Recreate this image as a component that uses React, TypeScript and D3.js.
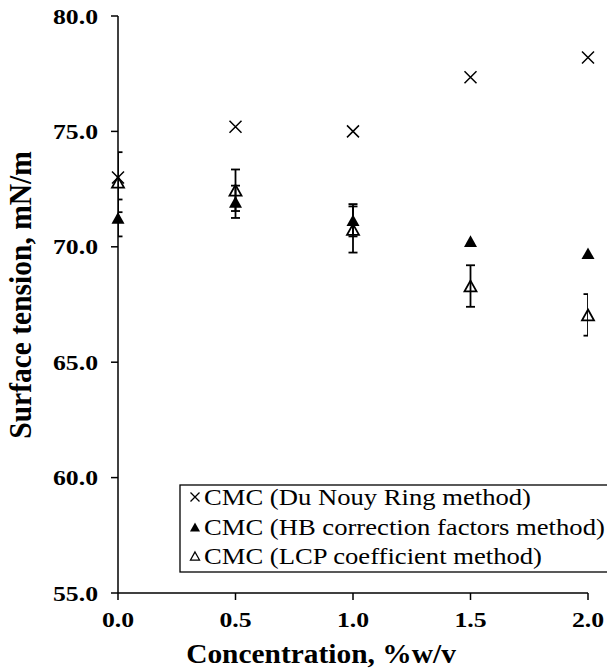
import React from "react";
import * as d3 from "d3";

const concentrations = [0, 0.5, 1.0, 1.5, 2.0];
const duNouy = [73.0, 75.2, 75.0, 77.35, 78.2];
const hb = [71.25, 71.95, 71.15, 70.25, 69.72];
const hbErr = [0.8, 0.7, 0.7, 0, 0];
const lcp = [72.8, 72.45, 70.75, 68.3, 67.05];
const lcpErr = [1.3, 0.9, 1.0, 0.9, 0.9];
const yTicks = [55, 60, 65, 70, 75, 80];
const xTicks = [0, 0.5, 1.0, 1.5, 2.0];
const legendLabels = [
  "CMC (Du Nouy Ring method)",
  "CMC (HB correction factors method)",
  "CMC (LCP coefficient method)",
];

const W = 607;
const H = 669;
const L = 118, R = 588, T = 16, B = 593;
const SERIF = "Liberation Serif";

export default function App() {
  const x = d3.scaleLinear().domain([0, 2]).range([L, R]);
  const y = d3.scaleLinear().domain([55, 80]).range([B, T]);

  const tri = (cx: number, cy: number, s: number) => {
    const h = s * 0.9;
    return `M${cx},${cy - h / 2}L${cx + s / 2},${cy + h / 2}L${cx - s / 2},${cy + h / 2}Z`;
  };
  const cross = (cx: number, cy: number, s: number) => {
    const r = s / 2;
    return `M${cx - r},${cy - r}L${cx + r},${cy + r}M${cx - r},${cy + r}L${cx + r},${cy - r}`;
  };

  const errBar = (v: number, e: number, i: number, key: string) => {
    if (!e) return null;
    const cx = x(concentrations[i]);
    const y1 = y(v + e), y2 = y(v - e);
    const cw = 4.5;
    return (
      <g key={key} stroke="#000" strokeWidth={1.8} clipPath="url(#plotClip)">
        <line x1={cx} x2={cx} y1={y1} y2={y2} />
        <line x1={cx - cw} x2={cx + cw} y1={y1} y2={y1} />
        <line x1={cx - cw} x2={cx + cw} y1={y2} y2={y2} />
      </g>
    );
  };

  const legendY = [497, 527, 556];

  return (
    <svg width={W} height={H} style={{ position: "absolute", left: 0, top: 0, background: "#fff" }} fontFamily={SERIF}>
      <defs>
        <clipPath id="plotClip">
          <rect x={L} y={T - 5} width={R - L} height={B - T + 10} />
        </clipPath>
      </defs>
      <rect x={0} y={0} width={W} height={H} fill="#fff" />

      {/* legend box */}
      <rect x={180} y={485} width={440} height={87} fill="#fff" stroke="#000" strokeWidth={1.3} />
      {legendLabels.map((lab, i) => (
        <g key={lab}>
          {i === 0 && <path d={cross(195, legendY[i], 9)} stroke="#000" strokeWidth={1.3} fill="none" />}
          {i === 1 && <path d={tri(195, legendY[i], 10)} fill="#000" />}
          {i === 2 && <path d={tri(195, legendY[i], 9)} fill="none" stroke="#000" strokeWidth={1.3} />}
          <text transform={`translate(204,${legendY[i] + 8}) scale(1.11,1)`} fontSize={24} fill="#000">
            {lab}
          </text>
        </g>
      ))}

      {/* axes */}
      <g stroke="#000" strokeWidth={1.5} fill="none">
        <line x1={L} x2={L} y1={T} y2={B} />
        <line x1={L} x2={R} y1={B} y2={B} />
        {yTicks.map((t) => (
          <line key={"yt" + t} x1={L - 7} x2={L} y1={y(t)} y2={y(t)} />
        ))}
        {xTicks.map((t) => (
          <line key={"xt" + t} x1={x(t)} x2={x(t)} y1={B} y2={B + 7} />
        ))}
      </g>
      {yTicks.map((t) => (
        <text key={"yl" + t} transform={`translate(98,${y(t) + 7.5}) scale(1.17,1)`} textAnchor="end" fontSize={22} fontWeight="bold">
          {t.toFixed(1)}
        </text>
      ))}
      {xTicks.map((t) => (
        <text key={"xl" + t} transform={`translate(${x(t)},627) scale(1.17,1)`} textAnchor="middle" fontSize={22} fontWeight="bold">
          {t.toFixed(1)}
        </text>
      ))}
      <text transform={`translate(${(L + R) / 2 - 32},663) scale(1.09,1)`} textAnchor="middle" fontSize={27} fontWeight="bold">
        Concentration, %w/v
      </text>
      <text transform={`translate(31,${295}) rotate(-90) scale(1,1.1)`} textAnchor="middle" fontSize={29.5} fontWeight="bold">
        Surface tension, mN/m
      </text>

      {/* markers */}
      {duNouy.map((v, i) => (
        <path key={"dn" + i} d={cross(x(concentrations[i]), y(v), 12)} stroke="#000" strokeWidth={1.5} fill="none" />
      ))}
      {hb.map((v, i) => (
        <path key={"hb" + i} d={tri(x(concentrations[i]), y(v), 13)} fill="#000" />
      ))}
      {lcp.map((v, i) => (
        <path key={"lcp" + i} d={tri(x(concentrations[i]), y(v), 12)} fill="none" stroke="#000" strokeWidth={1.8} />
      ))}
      {hb.map((v, i) => errBar(v, hbErr[i], i, "hbe" + i))}
      {lcp.map((v, i) => errBar(v, lcpErr[i], i, "lcpe" + i))}
    </svg>
  );
}
